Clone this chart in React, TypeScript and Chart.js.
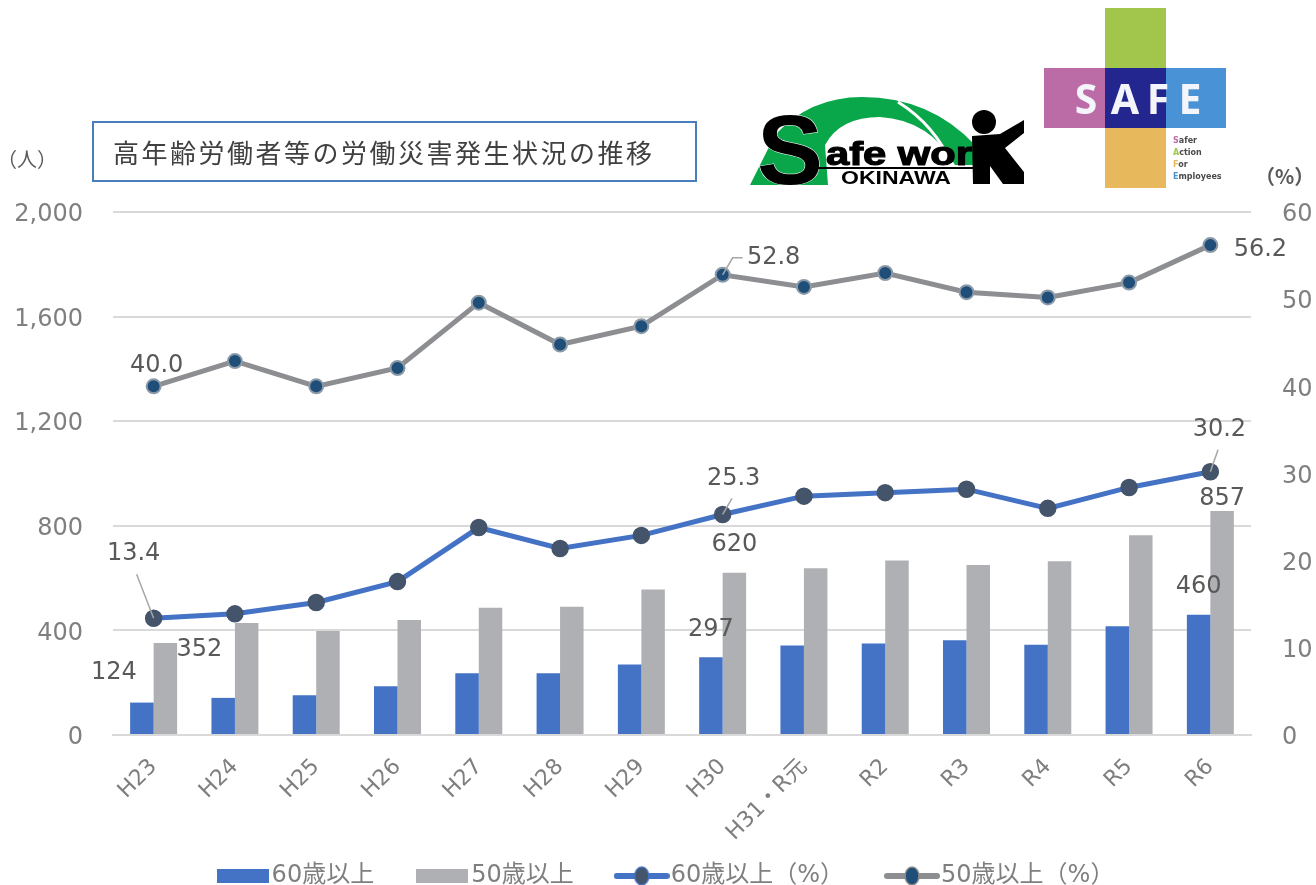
import React, { useEffect, useRef } from "react";
import { Chart, registerables } from "chart.js";

Chart.register(...registerables);

const categories = ["H23", "H24", "H25", "H26", "H27", "H28", "H29", "H30", "H31・R元", "R2", "R3", "R4", "R5", "R6"];
const workers60 = [124, 142, 152, 186, 236, 236, 270, 297, 342, 350, 362, 345, 416, 460];
const workers50 = [352, 428, 398, 440, 487, 490, 556, 620, 638, 667, 650, 664, 764, 857];
const percent60 = [13.4, 13.9, 15.2, 17.6, 23.8, 21.4, 22.9, 25.3, 27.4, 27.8, 28.2, 26.0, 28.4, 30.2];
const percent50 = [40.0, 42.9, 40.0, 42.1, 49.6, 44.8, 46.9, 52.8, 51.4, 53.0, 50.8, 50.2, 51.9, 56.2];
const seriesNames = ["60歳以上", "50歳以上", "60歳以上（%）", "50歳以上（%）"];
const titleText = "高年齢労働者等の労働災害発生状況の推移";

// dataset, category, label offset from its mark, whether a leader line is drawn
const callouts: [number, number, number, number, boolean][] = [
  [3, 0, 3, -21, false],
  [3, 7, 51, -17, true],
  [3, 13, 50, 5, false],
  [2, 13, 9, -42, true],
  [2, 7, 11, -36, true],
  [2, 0, -20, -64, true],
  [1, 7, 0, -28, false],
  [0, 7, 0, -28, false],
  [1, 0, 34, 7, false],
  [0, 0, -28, -30, false],
  [0, 13, 0, -28, false],
  [1, 13, 0, -12, false],
];

const GREY = "#7f7f7f";
const FONT = "'DejaVu Sans', sans-serif";
const CJK = "'DejaVu Sans', 'Noto Sans CJK JP', sans-serif";

function swatch(color: string) {
  const c = document.createElement("canvas");
  c.width = 52;
  c.height = 14;
  const x = c.getContext("2d")!;
  x.fillStyle = color;
  x.fillRect(0, 0, 52, 14);
  return c;
}

function lineMark(line: string, fill: string) {
  const c = document.createElement("canvas");
  c.width = 56;
  c.height = 20;
  const x = c.getContext("2d")!;
  x.strokeStyle = line;
  x.lineWidth = 6;
  x.lineCap = "round";
  x.beginPath();
  x.moveTo(3, 10);
  x.lineTo(53, 10);
  x.stroke();
  x.fillStyle = fill;
  x.strokeStyle = line;
  x.lineWidth = 1.5;
  x.beginPath();
  x.ellipse(28, 10, 7, 9, 0, 0, Math.PI * 2);
  x.fill();
  x.stroke();
  return c;
}

const calloutPlugin = {
  id: "callouts",
  afterDatasetsDraw(chart: any) {
    const { ctx } = chart;
    ctx.save();
    ctx.font = `24px ${FONT}`;
    ctx.textAlign = "center";
    ctx.textBaseline = "middle";
    for (const [ds, i, dx, dy, leader] of callouts) {
      const el = chart.getDatasetMeta(ds).data[i];
      const value = chart.data.datasets[ds].data[i];
      const text = ds >= 2 ? Number(value).toFixed(1) : String(value);
      const x = el.x + dx;
      const y = el.y + dy;
      if (leader) {
        ctx.strokeStyle = "#a6a6a6";
        ctx.lineWidth = 1.5;
        ctx.beginPath();
        ctx.moveTo(el.x, el.y);
        if (dx > 30) {
          ctx.lineTo(el.x + 10, y);
          ctx.lineTo(el.x + 20, y);
        } else {
          ctx.lineTo(x * 0.85 + el.x * 0.15, y + 20);
        }
        ctx.stroke();
      }
      ctx.fillStyle = "#595959";
      ctx.fillText(text, x, y);
    }
    ctx.restore();
  },
};

// nudges the axis labels so that their digits sit centred on the grid lines
function centreLabels(scale: any) {
  if (scale.__centred) return;
  scale.__centred = true;
  const original = scale._computeLabelItems;
  scale._computeLabelItems = function (area: any) {
    return original.call(this, area).map((item: any) => ({ ...item, textOffset: item.textOffset + 3 }));
  };
}

function SafeWorkLogo() {
  return (
    <svg width={1316} height={885} style={{ position: "absolute", left: 0, top: 0, pointerEvents: "none" }}>
      <path d="M750 185 L775 135 Q810 97 862 97 Q930 97 975 145 L975 165 L955 165 Q930 120 880 117 Q840 117 825 145 L828 185 Z" fill="#0aa64a" />
      <path d="M898 102 Q935 125 952 165" fill="none" stroke="#ffffff" strokeWidth={3} />
      <text x={757} y={184} fontFamily="'Liberation Sans', sans-serif" fontWeight="bold" fontSize={98} fill="#000" stroke="#fff" strokeWidth={1} textLength={66} lengthAdjust="spacingAndGlyphs" style={{ paintOrder: "stroke" }}>S</text>
      <text x={826} y={165} fontFamily="'Liberation Sans', sans-serif" fontWeight="bold" fontSize={34} fill="#000" stroke="#000" strokeWidth={1.2} textLength={146} lengthAdjust="spacingAndGlyphs">afe wor</text>
      <rect x={818} y={167} width={162} height={2} fill="#000" />
      <text x={841} y={184} fontFamily="'Liberation Sans', sans-serif" fontSize={19} fontWeight="bold" fill="#000" textLength={110} lengthAdjust="spacingAndGlyphs">OKINAWA</text>
      <circle cx={984} cy={122} r={12} fill="#000" />
      <path d="M972 136 L1000 134 L1024 120 L1024 133 L1005 148 L1024 172 L1024 184 L1003 184 L990 166 L990 184 L973 184 Z" fill="#000" />
    </svg>
  );
}

function SafeLogo() {
  const box = (left: number, top: number, width: number, height: number, background: string) => (
    <div style={{ position: "absolute", left, top, width, height, background }} />
  );
  const letters: [string, number][] = [["S", 1086], ["A", 1125], ["F", 1158], ["E", 1190]];
  const small: [string, string, string, number][] = [
    ["S", "afer", "#bb6ba6", 141],
    ["A", "ction", "#a2c64b", 153],
    ["F", "or", "#e8b95c", 165],
    ["E", "mployees", "#4a92d6", 177],
  ];
  return (
    <>
      {box(1105, 8, 61, 60, "#a2c64b")}
      {box(1044, 68, 61, 60, "#bb6ba6")}
      {box(1105, 68, 61, 60, "#23268f")}
      {box(1166, 68, 60, 60, "#4a92d6")}
      {box(1105, 128, 61, 60, "#e8b95c")}
      {letters.map(([t, x]) => (
        <div key={t} style={{ position: "absolute", left: x - 20, width: 40, top: 72, textAlign: "center", color: "#f4f4fb", font: `bold 41px/52px 'Noto Sans', sans-serif` }}>{t}</div>
      ))}
      {small.map(([a, t, color, y]) => (
        <div key={a} style={{ position: "absolute", left: 1173, top: y - 4, color: "#4a4a4a", font: `bold 8px/8px 'DejaVu Sans', sans-serif` }}>
          <span style={{ color }}>{a}</span>{t}
        </div>
      ))}
    </>
  );
}

export default function App() {
  const ref = useRef<HTMLCanvasElement>(null);
  useEffect(() => {
    const markers = [swatch("#4472c4"), swatch("#afb0b3"), lineMark("#4472c4", "#44546a"), lineMark("#8c8e91", "#1f4e79")];
    const chart = new Chart(ref.current!, {
      type: "bar",
      data: {
        labels: categories,
        datasets: [
          { type: "bar", label: seriesNames[0], data: workers60, backgroundColor: "#4472c4", yAxisID: "y", order: 3, categoryPercentage: 0.578, barPercentage: 1 },
          { type: "bar", label: seriesNames[1], data: workers50, backgroundColor: "#afb0b3", yAxisID: "y", order: 3, categoryPercentage: 0.578, barPercentage: 1 },
          { type: "line", label: seriesNames[2], data: percent60, borderColor: "#4472c4", borderWidth: 5, pointRadius: 8, pointBorderWidth: 1.5, pointBackgroundColor: "#44546a", pointBorderColor: "#44546a", yAxisID: "y1", order: 1 },
          { type: "line", label: seriesNames[3], data: percent50, borderColor: "#8c8e91", borderWidth: 5, pointRadius: 7, pointBorderWidth: 2, pointBackgroundColor: "#1f4e79", pointBorderColor: "#8c9aa8", yAxisID: "y1", order: 2 },
        ] as any,
      },
      options: {
        responsive: false,
        animation: false,
        layout: { padding: { top: 212, bottom: -13, left: 0, right: -24 } },
        plugins: {
          title: { display: false },
          tooltip: { enabled: false },
          legend: {
            position: "bottom",
            labels: {
              usePointStyle: true,
              pointStyleWidth: 34,
              padding: 51,
              color: GREY,
              font: { family: CJK, size: 24 },
              generateLabels: () =>
                seriesNames.map((text, i) => ({ text, pointStyle: markers[i], datasetIndex: i, fontColor: GREY, lineWidth: 0, strokeStyle: "transparent", fillStyle: "transparent" })) as any,
            },
          },
        },
        scales: {
          x: {
            grid: { display: false },
            border: { color: "#d9d9d9", width: 2 },
            ticks: { color: GREY, font: { family: CJK, size: 22 }, minRotation: 45, maxRotation: 45, autoSkip: false, padding: 11 },
            afterFit: (s: any) => { s.height = 78; s._computeLabelArea = () => undefined; },
          },
          y: {
            position: "left",
            min: 0,
            max: 2000,
            grid: { color: "#d9d9d9", lineWidth: 2, drawTicks: false },
            border: { display: false },
            ticks: { stepSize: 400, color: GREY, font: { family: FONT, size: 24 }, padding: 30, callback: (v: any) => Number(v).toLocaleString("en-US") },
            afterFit: (s: any) => { s.width = 113; centreLabels(s); },
          },
          y1: {
            position: "right",
            min: 0,
            max: 60,
            grid: { display: false },
            border: { display: false },
            ticks: { stepSize: 10, color: GREY, font: { family: FONT, size: 24 }, padding: 23 },
            afterFit: (s: any) => { s.width = 89; centreLabels(s); },
          },
        },
      } as any,
      plugins: [calloutPlugin],
    });
    return () => chart.destroy();
  }, []);

  return (
    <div style={{ position: "absolute", left: 0, top: 0, width: 1316, height: 885, overflow: "hidden", background: "#fff" }}>
      <canvas ref={ref} width={1316} height={885} style={{ display: "block" }} />
      <div style={{ position: "absolute", left: 92, top: 121, width: 601, height: 57, border: "2px solid #4a7ebb", display: "flex", alignItems: "center" }}>
        <span style={{ marginLeft: 19, font: "26px 'Noto Sans CJK JP', sans-serif", letterSpacing: 2.5, color: "#404040", whiteSpace: "nowrap" }}>{titleText}</span>
      </div>
      <div style={{ position: "absolute", left: -3, top: 144, font: "20px 'Noto Sans CJK JP', sans-serif", color: "#595959" }}>（人）</div>
      <div style={{ position: "absolute", left: 1255, top: 161, font: "bold 20px 'Noto Sans CJK JP', sans-serif", color: "#595959" }}>（%）</div>
      <SafeWorkLogo />
      <SafeLogo />
    </div>
  );
}
